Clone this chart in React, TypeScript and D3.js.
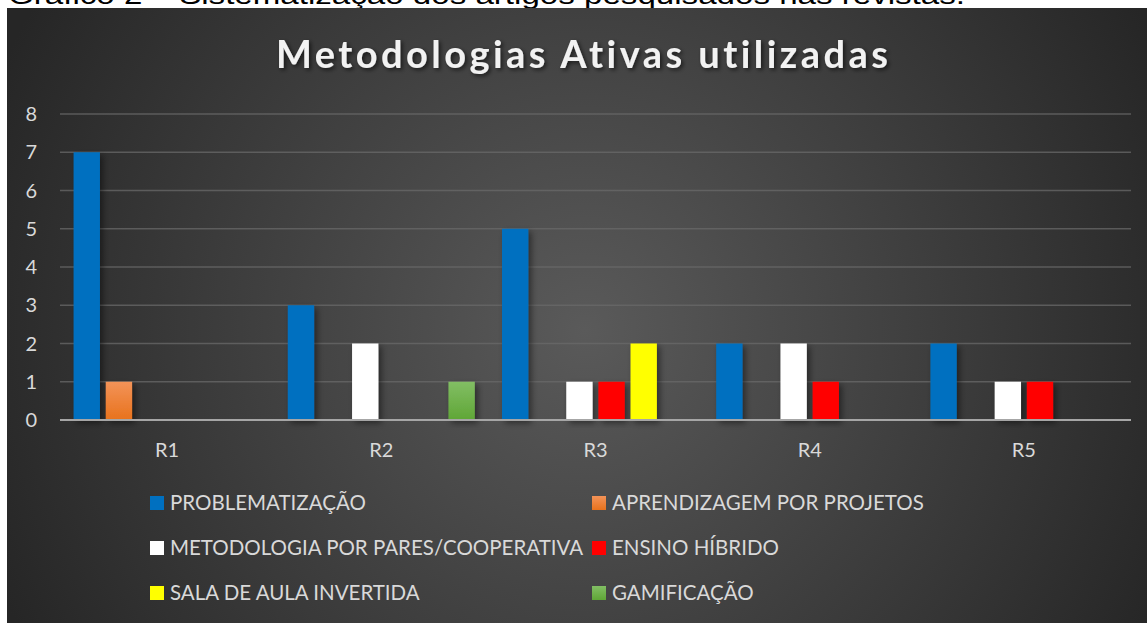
import React, { useRef, useEffect } from "react";
import * as d3 from "d3";

const categories = ["R1", "R2", "R3", "R4", "R5"];
const seriesNames = [
  "PROBLEMATIZAÇÃO",
  "APRENDIZAGEM POR PROJETOS",
  "METODOLOGIA POR PARES/COOPERATIVA",
  "ENSINO HÍBRIDO",
  "SALA DE AULA INVERTIDA",
  "GAMIFICAÇÃO",
];
const problematizacao = [7, 3, 5, 2, 2];
const aprendizagemProjetos = [1, 0, 0, 0, 0];
const paresCooperativa = [0, 2, 1, 2, 1];
const ensinoHibrido = [0, 0, 1, 1, 1];
const salaInvertida = [0, 0, 2, 0, 0];
const gamificacao = [0, 1, 0, 0, 0];
const seriesValues = [
  problematizacao,
  aprendizagemProjetos,
  paresCooperativa,
  ensinoHibrido,
  salaInvertida,
  gamificacao,
];
const seriesFills = ["#0070C0", "url(#gOrange)", "#FFFFFF", "#FF0000", "#FFFF00", "url(#gGreen)"];
const yTicks = [0, 1, 2, 3, 4, 5, 6, 7, 8];

const title = "Metodologias Ativas utilizadas";
const caption = "Gráfico 2 – Sistematização dos artigos pesquisados nas revistas.";

const W = 1147;
const H = 623;

const App = () => {
  const svgRef = useRef<SVGSVGElement>(null);

  useEffect(() => {
    const svg = d3.select(svgRef.current);
    svg.selectAll("*").remove();

    const font = "Lato, 'Open Sans', sans-serif";
    const margin = { top: 114, left: 60, right: 16, bottom: 203 };
    const plotW = W - margin.left - margin.right;
    const plotH = H - margin.top - margin.bottom;

    const defs = svg.append("defs");
    const bg = defs
      .append("radialGradient")
      .attr("id", "bg")
      .attr("gradientUnits", "userSpaceOnUse")
      .attr("cx", 585)
      .attr("cy", 330)
      .attr("r", 640);
    bg.append("stop").attr("offset", 0).attr("stop-color", "#5a5a5a");
    bg.append("stop").attr("offset", 1).attr("stop-color", "#262626");

    const addVGrad = (id: string, top: string, bottom: string) => {
      const g = defs.append("linearGradient").attr("id", id).attr("x1", 0).attr("y1", 0).attr("x2", 0).attr("y2", 1);
      g.append("stop").attr("offset", 0).attr("stop-color", top);
      g.append("stop").attr("offset", 1).attr("stop-color", bottom);
    };
    addVGrad("gOrange", "#F39358", "#E8721C");
    addVGrad("gGreen", "#82BE64", "#5FA636");

    const shadow = defs.append("filter").attr("id", "shadow").attr("x", "-50%").attr("y", "-20%").attr("width", "200%").attr("height", "140%");
    shadow
      .append("feDropShadow")
      .attr("dx", 3)
      .attr("dy", 3)
      .attr("stdDeviation", 3)
      .attr("flood-color", "#000")
      .attr("flood-opacity", 0.45);

    const tshadow = defs.append("filter").attr("id", "tshadow").attr("x", "-10%").attr("y", "-30%").attr("width", "120%").attr("height", "160%");
    tshadow
      .append("feDropShadow")
      .attr("dx", 2)
      .attr("dy", 2)
      .attr("stdDeviation", 2)
      .attr("flood-color", "#000")
      .attr("flood-opacity", 0.6);

    // caption above the chart (cropped in the source too)
    svg
      .append("text")
      .attr("x", 8)
      .attr("y", 4)
      .attr("font-family", "'Liberation Sans', Arial, sans-serif")
      .attr("font-size", 25)
      .attr("fill", "#000")
      .attr("textLength", 957)
      .attr("lengthAdjust", "spacingAndGlyphs")
      .text(caption);

    svg.append("rect").attr("x", 7).attr("y", 8).attr("width", W - 7).attr("height", H - 8).attr("fill", "url(#bg)");

    svg
      .append("text")
      .attr("x", 582)
      .attr("y", 68)
      .attr("text-anchor", "middle")
      .attr("font-family", font)
      .attr("font-weight", 700)
      .attr("font-size", 38)
      .attr("fill", "#F2F2F2")
      .style("font-variant-ligatures", "none")
      .attr("textLength", 612)
      .attr("lengthAdjust", "spacing")
      .attr("filter", "url(#tshadow)")
      .text(title);

    const x0 = d3.scaleBand().domain(categories).range([0, plotW]).padding(0);
    const bw = x0.bandwidth();
    const x1 = d3
      .scaleBand()
      .domain(seriesNames)
      .range([bw * 0.05, bw * 0.95])
      .paddingInner(0.18)
      .paddingOuter(0.09);
    const y = d3.scaleLinear().domain([0, 8]).range([plotH, 0]);

    const g = svg.append("g").attr("transform", `translate(${margin.left},${margin.top})`);

    g.append("g")
      .selectAll("line")
      .data(yTicks.filter((t) => t > 0))
      .join("line")
      .attr("x1", 0)
      .attr("x2", plotW)
      .attr("y1", (d) => y(d))
      .attr("y2", (d) => y(d))
      .attr("stroke", "#6a6a6a")
      .attr("stroke-opacity", 0.75)
      .attr("stroke-width", 1.5);

    g.append("g")
      .selectAll("text")
      .data(yTicks)
      .join("text")
      .attr("x", -23)
      .attr("y", (d) => y(d))
      .attr("dy", "0.36em")
      .attr("text-anchor", "end")
      .attr("font-family", font)
      .attr("font-size", 20)
      .attr("fill", "#D9D9D9")
      .text((d) => d);

    const groups = g
      .append("g")
      .selectAll("g")
      .data(categories)
      .join("g")
      .attr("transform", (d) => `translate(${x0(d)},0)`);

    groups
      .selectAll("rect")
      .data((_, ci) => seriesNames.map((s, si) => ({ s, si, v: seriesValues[si][ci] })).filter((d) => d.v > 0))
      .join("rect")
      .attr("x", (d) => x1(d.s)!)
      .attr("width", x1.bandwidth())
      .attr("y", (d) => y(d.v))
      .attr("height", (d) => plotH - y(d.v))
      .attr("fill", (d) => seriesFills[d.si])
      .attr("filter", "url(#shadow)");

    g.append("line")
      .attr("x1", 0)
      .attr("x2", plotW)
      .attr("y1", plotH)
      .attr("y2", plotH)
      .attr("stroke", "#A6A6A6")
      .attr("stroke-width", 2);

    g.append("g")
      .selectAll("text")
      .data(categories)
      .join("text")
      .attr("x", (d) => x0(d)! + bw / 2)
      .attr("y", plotH + 37)
      .attr("text-anchor", "middle")
      .attr("font-family", font)
      .attr("font-size", 20)
      .attr("fill", "#D9D9D9")
      .text((d) => d);

    // legend, 2 columns x 3 rows
    const legendCols = [150, 592];
    const legendRows = [503, 548, 593];
    const legend = svg
      .append("g")
      .selectAll("g")
      .data(seriesNames)
      .join("g")
      .attr("transform", (_, i) => `translate(${legendCols[i % 2]},${legendRows[Math.floor(i / 2)]})`);
    legend
      .append("rect")
      .attr("x", 0)
      .attr("y", -7)
      .attr("width", 14)
      .attr("height", 14)
      .attr("fill", (_, i) => seriesFills[i]);
    legend
      .append("text")
      .attr("x", 20)
      .attr("dy", "0.36em")
      .attr("font-family", font)
      .attr("font-size", 20.5)
      .attr("fill", "#D9D9D9")
      .text((d) => d);
  }, []);

  return (
    <svg
      ref={svgRef}
      width={W}
      height={H}
      viewBox={`0 0 ${W} ${H}`}
      style={{ position: "absolute", left: 0, top: 0, display: "block" }}
    ></svg>
  );
};

export default App;
